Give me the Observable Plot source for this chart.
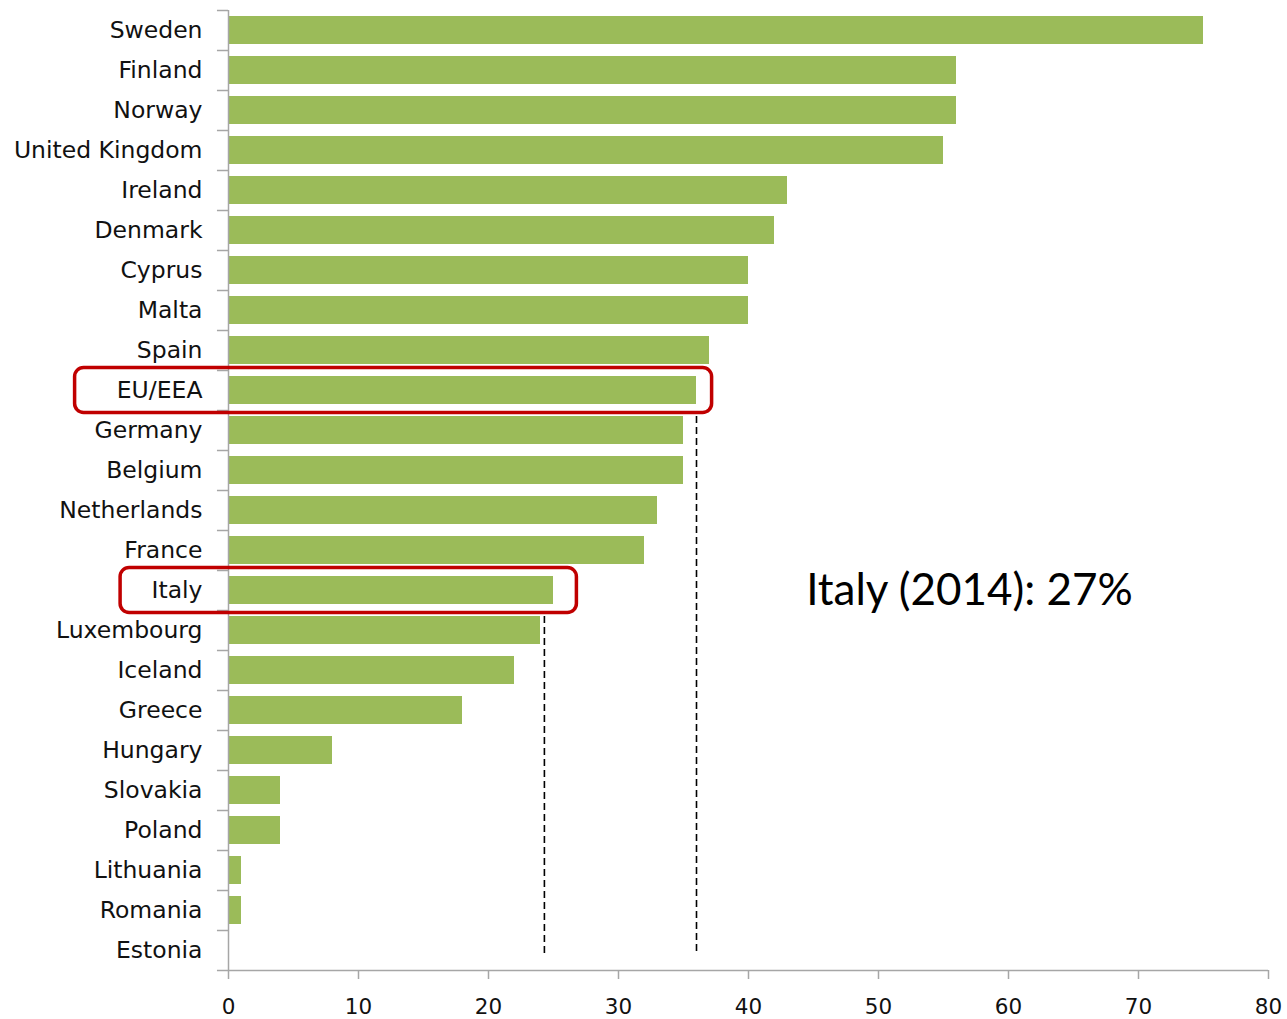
<!DOCTYPE html>
<html><head><meta charset="utf-8">
<script src="https://cdn.jsdelivr.net/npm/d3@7"></script>
<script src="https://cdn.jsdelivr.net/npm/@observablehq/plot@0.6"></script>
<style>html,body{margin:0;padding:0;background:#fff}</style>
</head><body><div id="chart"></div>
<script>
const countries = ["Sweden","Finland","Norway","United Kingdom","Ireland","Denmark","Cyprus","Malta","Spain","EU/EEA","Germany","Belgium","Netherlands","France","Italy","Luxembourg","Iceland","Greece","Hungary","Slovakia","Poland","Lithuania","Romania","Estonia"];
const values = [75,56,56,55,43,42,40,40,37,36,35,35,33,32,25,24,22,18,8,4,4,1,1,0];
const xTicks = [0,10,20,30,40,50,60,70,80];
const refValues = [36, 24.3];
const refFrom = ["Germany", "Luxembourg"];
const refTo = ["Estonia", "Estonia"];
const boxCountries = ["EU/EEA", "Italy"];
const boxStart = [-11.8, -8.3];
const boxEnd = [37.2, 26.8];
const noteText = ["Italy (2014): 27%"];
const noteX = [57];
const noteRow = ["Italy"];

const data = countries.map((c, i) => ({country: c, value: values[i]}));
const refs = refValues.map((v, i) => ({value: v, from: refFrom[i], to: refTo[i]}));
const boxes = boxCountries.map((c, i) => ({country: c, x1: boxStart[i], x2: boxEnd[i]}));
const notes = noteText.map((t, i) => ({text: t, x: noteX[i], country: noteRow[i]}));

const axisGrey = "#a6a6a6";
const chart = Plot.plot({
  width: 1287, height: 1019,
  marginLeft: 228, marginRight: 19, marginTop: 10, marginBottom: 49,
  x: {domain: [0, 80]},
  y: {domain: countries, paddingInner: 0.3, paddingOuter: 0.15, align: 0.5},
  style: {fontFamily: "DejaVu Sans", background: "#fff", color: "#000", overflow: "visible"},
  marks: [
    Plot.barX(data, {x: "value", y: "country", fill: "#9BBB59"}),
    Plot.ruleX([0], {stroke: axisGrey, strokeWidth: 1.5}),
    Plot.ruleY(countries, {y: d => d, x1: -0.85, x2: 0, dy: -20, stroke: axisGrey, strokeWidth: 1.5}),
    Plot.ruleY(["Estonia"], {y: d => d, x1: -0.85, x2: 80, dy: 20, stroke: axisGrey, strokeWidth: 1.5}),
    Plot.axisY({tickSize: 0, tickPadding: 26, label: null, fontSize: 23.5, fill: "#111"}),
    Plot.axisX({ticks: xTicks, tickSize: 9, tickPadding: 19, label: null, fontSize: 21.5, stroke: axisGrey, strokeWidth: 1.5, fill: "#111"}),
    Plot.ruleX(refs, {x: "value", y1: "from", y2: "to", stroke: "#000", strokeWidth: 1.6, strokeDasharray: "7,4", insetBottom: 10}),
    Plot.barX(boxes, {x1: "x1", x2: "x2", y: "country", fill: "none", stroke: "#C00000", strokeWidth: 3.5, rx: 9, insetTop: -8.5, insetBottom: -8.5}),
    Plot.text(notes, {x: "x", y: "country", text: "text", fontFamily: "Lato", fontSize: 44, fill: "#000"})
  ]
});
document.getElementById("chart").appendChild(chart);
</script>
</body></html>
